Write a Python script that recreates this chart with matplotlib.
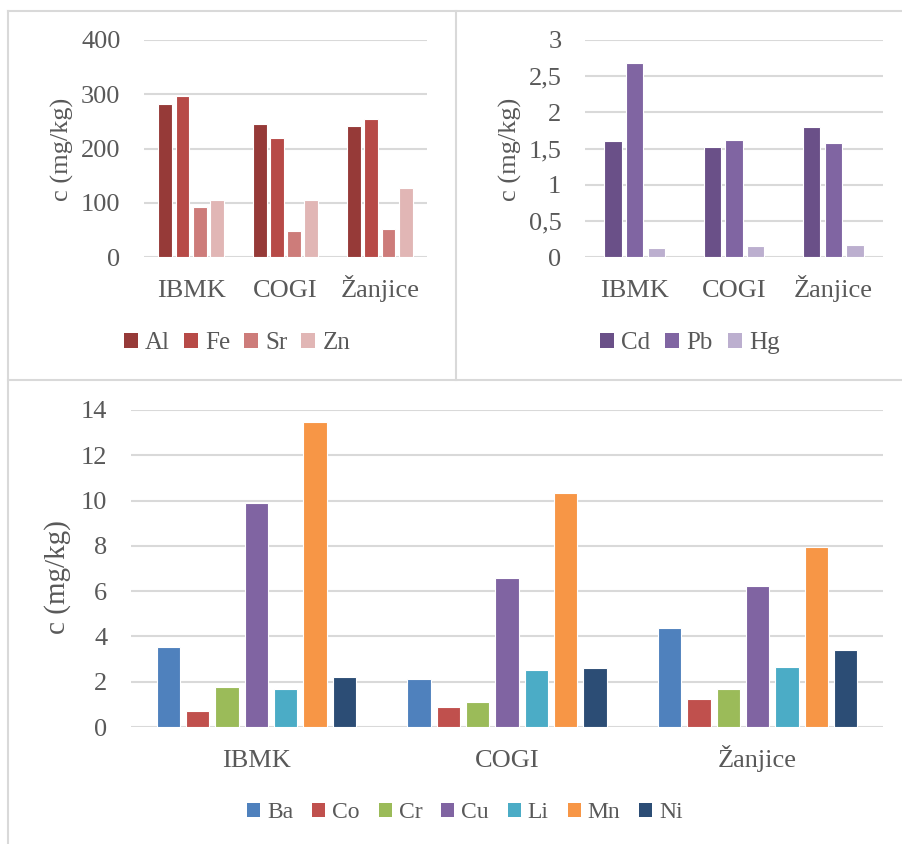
import numpy as np
import matplotlib
matplotlib.use("Agg")
import matplotlib.pyplot as plt
from matplotlib.lines import Line2D
from matplotlib.patches import Patch

plt.rcParams['font.family'] = ['Liberation Serif', 'DejaVu Serif']

sites = ['IBMK', 'COGI', 'Žanjice']

# top left panel
major_names = ['Al', 'Fe', 'Sr', 'Zn']
major_vals = [
    [282, 245, 241],   # Al
    [296, 219, 254],   # Fe
    [92, 48, 52],      # Sr
    [105, 105, 127],   # Zn
]
major_colors = ['#963A38', '#B74A47', '#CD7C7A', '#E1B6B5']

# top right panel
toxic_names = ['Cd', 'Pb', 'Hg']
toxic_vals = [
    [1.60, 1.52, 1.80],
    [2.68, 1.62, 1.58],
    [0.13, 0.15, 0.16],
]
toxic_colors = ['#6A5088', '#8065A2', '#BCAFCF']

# bottom panel
trace_names = ['Ba', 'Co', 'Cr', 'Cu', 'Li', 'Mn', 'Ni']
trace_vals = [
    [3.55, 2.14, 4.38],
    [0.71, 0.90, 1.25],
    [1.78, 1.09, 1.69],
    [9.90, 6.57, 6.22],
    [1.67, 2.52, 2.64],
    [13.47, 10.33, 7.94],
    [2.21, 2.61, 3.40],
]
trace_colors = ['#4F81BD', '#C0504D', '#9BBB59', '#8064A2', '#4BACC6', '#F79646', '#2C4D75']

W, H = 902, 844
txt = '#595959'
grid = '#D9D9D9'

fig = plt.figure(figsize=(W / 100, H / 100), dpi=100)


def ax_px(x0, y0, x1, y1):
    # pixel box (top-left origin) -> axes
    return fig.add_axes([x0 / W, 1 - y1 / H, (x1 - x0) / W, (y1 - y0) / H])


def bar_panel(ax, names, vals, colors, pitch, width, ymax, step, fmt, xsize=19):
    x = np.arange(len(sites))
    n = len(names)
    for i in range(n):
        off = (i - (n - 1) / 2) * pitch
        ax.bar(x + off, vals[i], width, color=colors[i], edgecolor='white',
               linewidth=0.8, zorder=3, label=names[i])
    ax.set_xlim(-0.5, 2.5)
    ax.set_ylim(0, ymax)
    ticks = np.arange(0, ymax + step / 2, step)
    ax.set_yticks(ticks)
    ax.set_yticklabels([fmt(t) for t in ticks])
    ax.set_xticks(x)
    ax.set_xticklabels(sites, va='baseline')
    for s in ax.spines.values():
        s.set_visible(False)
    ax.tick_params(length=0, colors=txt)
    ax.tick_params(axis='y', labelsize=19, pad=17)
    ax.tick_params(axis='x', labelsize=xsize, pad=29)
    ax.yaxis.grid(True, color=grid, linewidth=1.5, zorder=0)
    ax.set_axisbelow(True)


def make_legend(names, colors, cx, cy, size, colsp):
    handles = [Patch(facecolor=c, edgecolor='none') for c in colors]
    fig.legend(handles, names, loc='center', bbox_to_anchor=(cx / W, 1 - cy / H),
               ncol=len(names), frameon=False, fontsize=size, labelcolor=txt,
               handlelength=0.55, handleheight=0.55, handletextpad=0.3,
               columnspacing=colsp, borderaxespad=0)


ax1 = ax_px(144, 40, 427, 257)
bar_panel(ax1, major_names, major_vals, major_colors, 0.1835, 0.148, 400, 100,
          lambda t: f'{int(t)}')
ax2 = ax_px(585, 40, 883, 257)
bar_panel(ax2, toxic_names, toxic_vals, toxic_colors, 0.218, 0.174, 3, 0.5,
          lambda t: (f'{t:g}').replace('.', ','))
ax3 = ax_px(131, 410, 883, 727)
bar_panel(ax3, trace_names, trace_vals, trace_colors, 0.117, 0.094, 14, 2,
          lambda t: f'{int(t)}')

fig.text(62 / W, 1 - 149 / H, 'c (mg/kg)', rotation=90, ha='center', va='center',
         fontsize=19, color=txt)
fig.text(510 / W, 1 - 149 / H, 'c (mg/kg)', rotation=90, ha='center', va='center',
         fontsize=19, color=txt)
fig.text(58 / W, 1 - 577 / H, 'c (mg/kg)', rotation=90, ha='center', va='center',
         fontsize=21, color=txt)

make_legend(major_names, major_colors, 237, 343, 18, 0.55)
make_legend(toxic_names, toxic_colors, 690, 343, 18, 0.6)
make_legend(trace_names, trace_colors, 465, 813, 17, 0.8)

# panel borders
def line_px(xs, ys):
    fig.add_artist(Line2D([x / W for x in xs], [1 - y / H for y in ys],
                          color='#D9D9D9', linewidth=1.5))

line_px([8, 902], [11, 11])
line_px([8, 8], [11, 844])
line_px([456, 456], [11, 380])
line_px([8, 902], [380, 380])

fig.savefig('out.png', dpi=100)
